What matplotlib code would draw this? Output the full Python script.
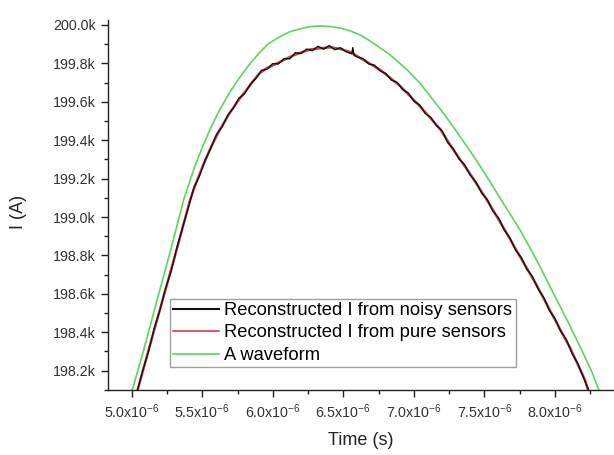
import matplotlib
matplotlib.use("Agg")
import matplotlib.pyplot as plt
from matplotlib.ticker import MultipleLocator
from matplotlib.lines import Line2D

plt.rcParams['font.family'] = ['Liberation Sans', 'DejaVu Sans']
plt.rcParams['mathtext.fontset'] = 'custom'
plt.rcParams['mathtext.rm'] = 'Liberation Sans'
plt.rcParams['mathtext.it'] = 'Liberation Sans'

# ---- data (time in microseconds, current in kA) ----
t_wave = [5.004, 5.085, 5.180, 5.276, 5.368, 5.446, 5.503, 5.563, 5.623, 5.690,
          5.761, 5.831, 5.902, 5.966, 6.033, 6.118, 6.189, 6.267, 6.337, 6.408,
          6.479, 6.550, 6.620, 6.712, 6.832, 6.953, 7.044, 7.186, 7.280, 7.420,
          7.517, 7.632, 7.752, 7.873, 7.988, 8.085, 8.177, 8.255, 8.311]
i_wave = [198.099, 198.308, 198.568, 198.828, 199.089, 199.262, 199.366, 199.470,
          199.557, 199.644, 199.722, 199.792, 199.853, 199.901, 199.932, 199.964,
          199.979, 199.992, 199.995, 199.992, 199.984, 199.969, 199.948, 199.906,
          199.844, 199.766, 199.696, 199.563, 199.469, 199.320, 199.210, 199.073,
          198.933, 198.771, 198.603, 198.464, 198.325, 198.204, 198.099]

t_pure = [5.042, 5.120, 5.219, 5.318, 5.414, 5.446, 5.502, 5.563, 5.623, 5.693,
          5.757, 5.814, 5.867, 5.906, 5.960, 6.054, 6.125, 6.196, 6.267, 6.337,
          6.408, 6.479, 6.550, 6.620, 6.691, 6.762, 6.903, 7.045, 7.186, 7.280,
          7.399, 7.517, 7.632, 7.752, 7.873, 7.988, 8.107, 8.212, 8.234]
i_pure = [198.099, 198.308, 198.568, 198.828, 199.089, 199.158, 199.262, 199.366,
          199.453, 199.540, 199.609, 199.662, 199.714, 199.749, 199.776, 199.809,
          199.835, 199.856, 199.873, 199.879, 199.884, 199.875, 199.859, 199.828,
          199.797, 199.766, 199.682, 199.575, 199.458, 199.349, 199.224, 199.089,
          198.948, 198.794, 198.641, 198.481, 198.318, 198.152, 198.099]

t_noisy = [5.04, 5.08, 5.12, 5.16, 5.20, 5.24, 5.28, 5.32, 5.36, 5.40,
           5.44, 5.48, 5.52, 5.56, 5.60, 5.64, 5.68, 5.72, 5.76, 5.80,
           5.84, 5.88, 5.92, 5.96, 6.00, 6.04, 6.08, 6.12, 6.16, 6.20,
           6.24, 6.28, 6.32, 6.36, 6.40, 6.44, 6.48, 6.52, 6.56, 6.567,
           6.575, 6.60, 6.64, 6.68, 6.72, 6.76, 6.80, 6.84, 6.88, 6.92,
           6.96, 7.00, 7.04, 7.08, 7.12, 7.16, 7.20, 7.24, 7.28, 7.32,
           7.36, 7.40, 7.44, 7.48, 7.52, 7.56, 7.60, 7.64, 7.68, 7.72,
           7.76, 7.80, 7.84, 7.88, 7.92, 7.96, 8.00, 8.04, 8.08, 8.12,
           8.16, 8.20, 8.24]
i_noisy = [198.096, 198.205, 198.302, 198.421, 198.515, 198.628, 198.719, 198.840,
           198.944, 199.046, 199.151, 199.213, 199.296, 199.357, 199.429, 199.468,
           199.529, 199.567, 199.619, 199.642, 199.691, 199.721, 199.764, 199.770,
           199.799, 199.797, 199.825, 199.824, 199.856, 199.851, 199.875, 199.866,
           199.889, 199.874, 199.893, 199.871, 199.882, 199.860, 199.850, 199.882,
           199.842, 199.833, 199.825, 199.797, 199.791, 199.761, 199.748, 199.713,
           199.702, 199.664, 199.646, 199.603, 199.584, 199.539, 199.519, 199.475,
           199.449, 199.387, 199.355, 199.302, 199.272, 199.217, 199.182, 199.125,
           199.091, 199.031, 198.995, 198.932, 198.892, 198.828, 198.790, 198.729,
           198.690, 198.625, 198.581, 198.513, 198.471, 198.405, 198.362, 198.291,
           198.239, 198.167, 198.095]

x_ticks = [5.0, 5.5, 6.0, 6.5, 7.0, 7.5, 8.0]
x_labels = [r'5.0x10$^{-6}$', r'5.5x10$^{-6}$', r'6.0x10$^{-6}$', r'6.5x10$^{-6}$',
            r'7.0x10$^{-6}$', r'7.5x10$^{-6}$', r'8.0x10$^{-6}$']
y_ticks = [198.2, 198.4, 198.6, 198.8, 199.0, 199.2, 199.4, 199.6, 199.8, 200.0]
y_labels = ['198.2k', '198.4k', '198.6k', '198.8k', '199.0k', '199.2k',
            '199.4k', '199.6k', '199.8k', '200.0k']
legend_labels = ['Reconstructed I from noisy sensors',
                 'Reconstructed I from pure sensors',
                 'A waveform']

c_noisy = '#111111'
c_pure = '#c8404a'
c_wave = '#5cd65c'

fig = plt.figure(figsize=(6.14, 4.55), dpi=100)
ax = fig.add_axes([108/614, 65/455, 1 - 108/614, 370/455])

ax.plot(t_wave, i_wave, color=c_wave, lw=1.2, zorder=1)
ax.plot(t_pure, i_pure, color=c_pure, lw=1.8, zorder=2)
ax.plot(t_noisy, i_noisy, color=c_noisy, lw=1.0, zorder=3)

ax.set_xlim(4.832, 8.418)
ax.set_ylim(198.099, 200.026)

ax.set_xticks(x_ticks)
ax.set_xticklabels(x_labels, fontsize=10.3, color='#333333')
ax.set_yticks(y_ticks)
ax.set_yticklabels(y_labels, fontsize=10.3, color='#333333')
ax.xaxis.set_minor_locator(MultipleLocator(0.25))
ax.yaxis.set_minor_locator(MultipleLocator(0.1))
ax.tick_params(which='major', direction='out', length=5, width=1, color='#222222', pad=4)
ax.tick_params(which='minor', direction='out', length=3, width=1, color='#222222')

for s in ['top', 'right']:
    ax.spines[s].set_visible(False)
for s in ['left', 'bottom']:
    ax.spines[s].set_linewidth(1.0)
    ax.spines[s].set_color('#222222')

ax.set_xlabel('Time (s)', fontsize=13, color='#222222')
ax.xaxis.set_label_coords((361 - 108) / 506, (390 - 432) / 370)
ax.set_ylabel('I (A)', fontsize=13, color='#222222')
ax.yaxis.set_label_coords((27 - 108) / 506, 0.48)

handles = [Line2D([], [], color=c_noisy, lw=1.5),
           Line2D([], [], color=c_pure, lw=1.2),
           Line2D([], [], color=c_wave, lw=1.2)]
leg = ax.legend(handles, legend_labels, loc='lower left',
                bbox_to_anchor=(0.1225, 0.062), borderaxespad=0, fontsize=13.2,
                frameon=True, fancybox=False, edgecolor='#888888',
                handlelength=2.5, handletextpad=0.3, labelspacing=0.3,
                borderpad=0.17)
leg.get_frame().set_linewidth(1.0)

fig.savefig('out.png', dpi=100)
